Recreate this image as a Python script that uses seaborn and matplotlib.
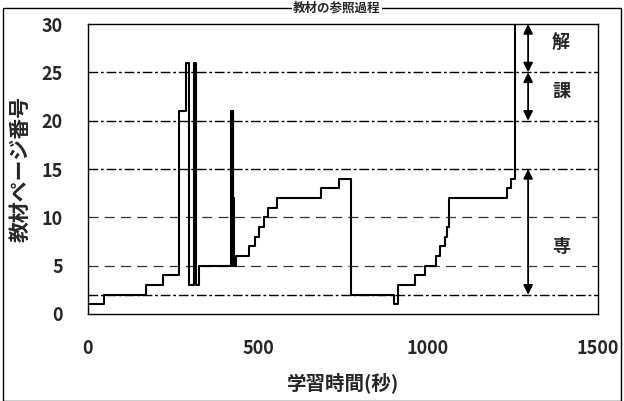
import numpy as np
import matplotlib
matplotlib.use("Agg")
import matplotlib.pyplot as plt
import seaborn as sns
import pandas as pd
from matplotlib.patches import Rectangle

# step trace of viewed page over time
times = [0, 47, 170, 220, 268, 287, 298, 312, 318, 326, 420, 423, 426, 428, 430, 435,
         473, 491, 504, 517, 530, 557, 687, 738, 775, 900, 913, 962, 992, 1025,
         1035, 1050, 1056, 1063, 1234, 1244, 1256]
pages = [1, 2, 3, 4, 21, 26, 3, 26, 3, 5, 21, 5, 21, 12, 5, 6,
         7, 8, 9, 10, 11, 12, 13, 14, 2, 1, 3, 4, 5, 6,
         7, 8, 9, 12, 13, 14, 30]

dashdot_levels = [2, 15, 20, 25]
dashed_levels = [5, 10]
x_ticks = [0, 500, 1000, 1500]
y_ticks = [0, 5, 10, 15, 20, 25, 30]

# section ranges marked with arrows on the right
sections = ["解", "課", "専"]
sec_lo = [25, 20, 2]
sec_hi = [30, 25, 15]
sec_label_y = [28, 23, 7]

sns.set_theme(style="white")
plt.rcParams['font.family'] = ['Noto Sans CJK JP', 'DejaVu Sans']

fig = plt.figure(figsize=(6.24, 4.01), dpi=100)
ax = fig.add_axes([0.141, 0.217, 0.817, 0.723])

df = pd.DataFrame({"t": times, "p": pages})

for lv in dashdot_levels:
    ax.axhline(lv, color="black", lw=1.0, ls=(0, (7, 2, 2, 2)), zorder=1)
for lv in dashed_levels:
    ax.axhline(lv, color="#333333", lw=0.9, ls=(0, (8, 5)), zorder=1)

sns.lineplot(data=df, x="t", y="p", drawstyle="steps-post", estimator=None,
             color="black", lw=1.5, ax=ax, zorder=3)

arrow_x = 1295
for name, lo, hi, ly in zip(sections, sec_lo, sec_hi, sec_label_y):
    ax.annotate("", xy=(arrow_x, hi), xytext=(arrow_x, lo),
                arrowprops=dict(arrowstyle="<|-|>", color="black", lw=1.3,
                                mutation_scale=14, shrinkA=0, shrinkB=0))
    ax.text(1392, ly, name, fontsize=13, fontweight="bold", ha="center", va="center")

ax.set_xlim(0, 1500)
ax.set_ylim(0, 30)
ax.set_xticks(x_ticks)
ax.set_yticks(y_ticks)
ax.tick_params(axis="x", direction="in", length=5, pad=18, labelsize=13)
ax.tick_params(axis="y", length=0, pad=18, labelsize=13)
for lab in ax.get_xticklabels() + ax.get_yticklabels():
    lab.set_fontweight("bold")
for sp in ax.spines.values():
    sp.set_color("black")
    sp.set_linewidth(1.0)

ax.set_xlabel("学習時間(秒)", fontsize=14, fontweight="bold", labelpad=10)
ax.set_ylabel("教材ページ番号", fontsize=15, fontweight="bold", labelpad=8)

# outer frame and caption sitting on its top edge
fig.patches.append(Rectangle((0.005, 0.0), 0.99, 0.98, transform=fig.transFigure,
                             fill=False, ec="black", lw=1.0))
fig.text(0.54, 0.981, "教材の参照過程", fontsize=9, fontweight="bold",
         ha="center", va="center", bbox=dict(fc="white", ec="none", pad=1))

fig.savefig("out.png", dpi=100)
